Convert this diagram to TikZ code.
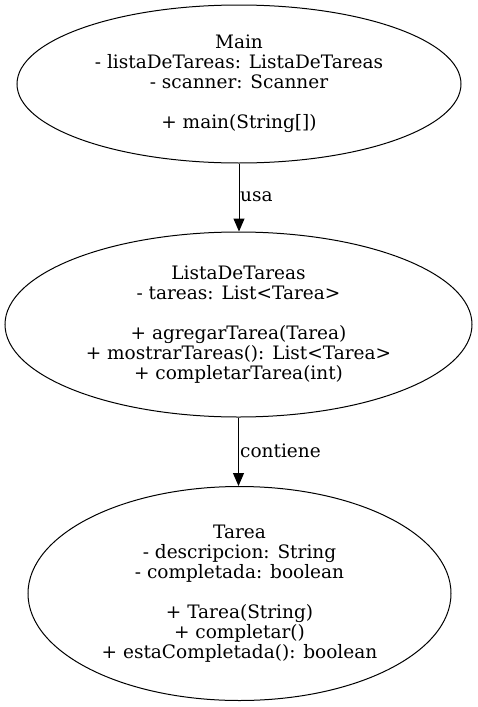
\documentclass[tikz,border=0pt]{standalone}
\usepackage{fontspec}
\setmainfont{DejaVu Serif}
\usetikzlibrary{shapes.geometric,arrows.meta}
\begin{document}
\begin{tikzpicture}[x=1pt,y=-1pt,
  cls/.style={ellipse,draw,line width=1pt,inner sep=0pt,align=center,
    font=\fontsize{18.5}{20}\selectfont},
  rel/.style={line width=1pt,-{Triangle[length=13pt,width=11pt]}},
  lbl/.style={font=\fontsize{18.5}{20}\selectfont,anchor=west,inner sep=0pt}]
\useasboundingbox (0,0) rectangle (478,707);
\node[cls,minimum width=444pt,minimum height=158pt] (main) at (239,84)
  {Main\\- listaDeTareas: ListaDeTareas\\- scanner: Scanner\\[20pt]+ main(String[])};
\node[cls,minimum width=467pt,minimum height=185pt] (lista) at (238.5,324.5)
  {ListaDeTareas\\- tareas: List<Tarea>\\[20pt]+ agregarTarea(Tarea)\\+ mostrarTareas(): List<Tarea>\\+ completarTarea(int)};
\node[cls,minimum width=423pt,minimum height=214pt] (tarea) at (239.5,593.5)
  {Tarea\\- descripcion: String\\- completada: boolean\\[20pt]+ Tarea(String)\\+ completar()\\+ estaCompletada(): boolean};
\draw[rel] (main.south) -- (main.south |- lista.north);
\draw[rel] (lista.south) -- (lista.south |- tarea.north);
\node[lbl] (usa) at (240,197) {usa};
\node[lbl] (cont) at (240,451) {contiene};
\end{tikzpicture}
\end{document}
